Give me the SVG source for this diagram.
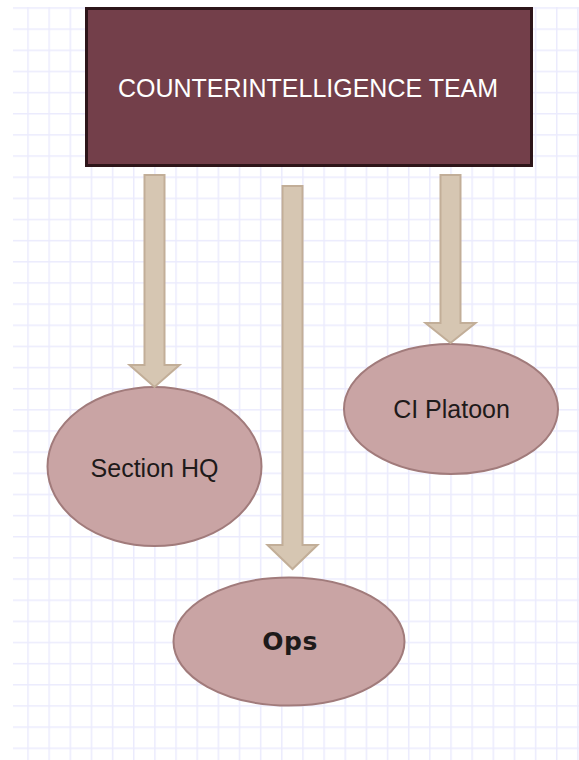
<svg xmlns="http://www.w3.org/2000/svg" width="579" height="760" viewBox="0 0 579 760">
  <defs>
    <pattern id="grid" patternUnits="userSpaceOnUse" x="6.1" y="7.25" width="21.15" height="21.15">
      <rect x="0" y="0" width="1.5" height="21.15" fill="#ebebfd"/>
      <rect x="0" y="0" width="21.15" height="1.5" fill="#ebebfd"/>
    </pattern>
    <style>
      .ell { fill: #c9a4a4; stroke: #a17b7b; stroke-width: 2; }
      .lbl { font-family: "Liberation Sans", Arial, sans-serif; font-size: 25px; fill: #1e1a1a; text-anchor: middle; }
      .arrow { fill: #d6c6b2; stroke: #c2ae98; stroke-width: 2; stroke-linejoin: miter; }
    </style>
  </defs>
  <rect x="0" y="0" width="579" height="760" fill="#ffffff"/>
  <rect x="13" y="7" width="566" height="753" fill="url(#grid)"/>

  <g id="team">
    <rect x="86.5" y="8.5" width="445" height="157" fill="#733f4a" stroke="#2d1519" stroke-width="3"/>
    <text x="308" y="97" class="lbl" style="fill:#ffffff">COUNTERINTELLIGENCE TEAM</text>
  </g>

  <g id="section-hq">
    <ellipse cx="154.5" cy="466.5" rx="107" ry="79.5" class="ell"/>
    <text x="154.5" y="477" class="lbl">Section HQ</text>
  </g>

  <g id="ci-platoon">
    <ellipse cx="451" cy="409" rx="107" ry="65" class="ell"/>
    <text x="451.5" y="418" class="lbl">CI Platoon</text>
  </g>

  <g id="ops">
    <ellipse cx="289" cy="641.5" rx="115.5" ry="64" class="ell"/>
    <text x="290" y="650" style="font-family:'DejaVu Sans', Verdana, sans-serif; font-size:25px; font-weight:bold; fill:#1e1a1a; text-anchor:middle; letter-spacing:0.5px">Ops</text>
  </g>

  <g id="connectors">
    <polygon class="arrow" points="144.5,175 164.5,175 164.5,365 179.5,365 154.5,387 129.5,365 144.5,365"/>
    <polygon class="arrow" points="282.5,186 302.5,186 302.5,545 317.5,545 292.5,569 267.5,545 282.5,545"/>
    <polygon class="arrow" points="440.5,175 460.5,175 460.5,323 475.5,323 450.5,343 425.5,323 440.5,323"/>
  </g>
</svg>
